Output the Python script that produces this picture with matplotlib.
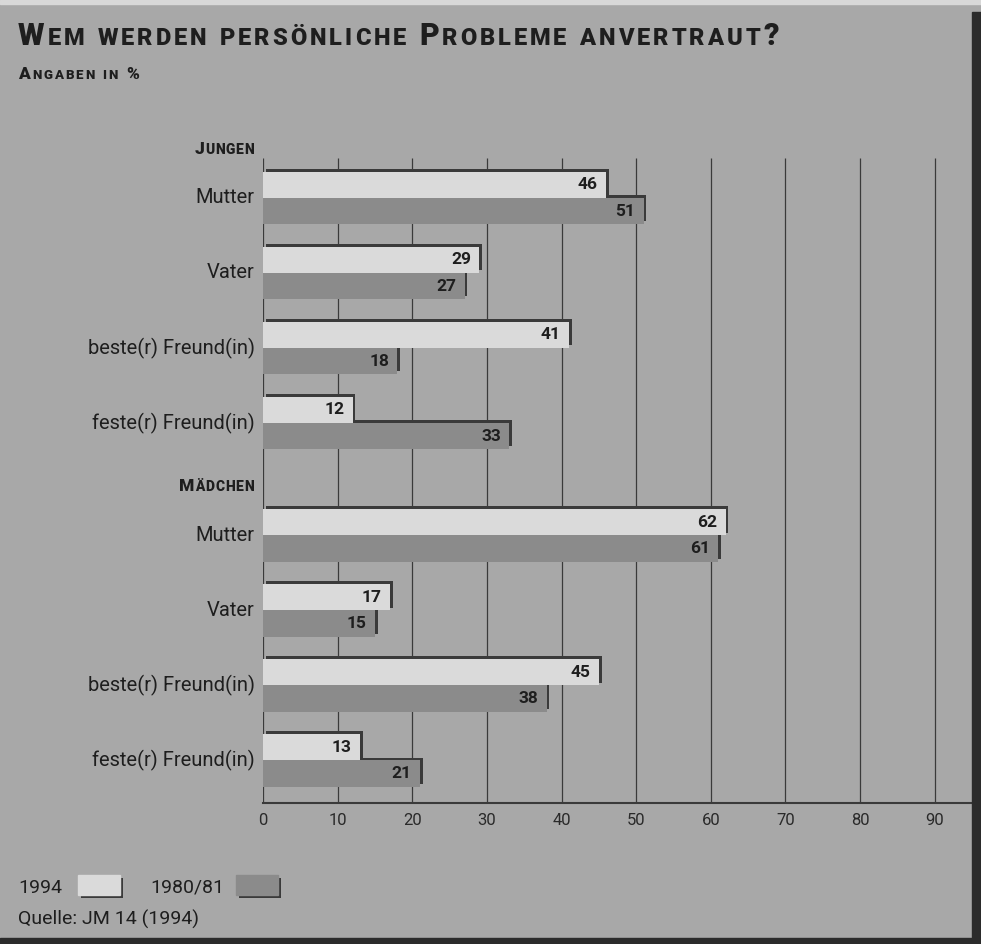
import matplotlib
matplotlib.use("Agg")
import matplotlib.pyplot as plt
import matplotlib.patheffects as pe
from matplotlib.patches import Rectangle

# data (Angaben in %)
CATEGORIES = ["Mutter", "Vater", "beste(r) Freund(in)", "feste(r) Freund(in)"]
GROUPS = ["Jungen", "Mädchen"]
JUNGEN_1994 = [46, 29, 41, 12]
JUNGEN_1980 = [51, 27, 18, 33]
MAEDCHEN_1994 = [62, 17, 45, 13]
MAEDCHEN_1980 = [61, 15, 38, 21]
SERIES_LABELS = ["1994", "1980/81"]
XTICKS = [0, 10, 20, 30, 40, 50, 60, 70, 80, 90]

BG = "#a8a8a8"
LIGHT = "#dadada"
DARK = "#8b8b8b"
SHADOW = "#3a3a3a"
INK = "#1e1e1e"
FONT = ["Roboto", "DejaVu Sans"]

W_PX, H_PX = 981, 944
plt.rcParams["font.family"] = FONT

fig = plt.figure(figsize=(W_PX / 100, H_PX / 100), dpi=100, facecolor=BG)
renderer = fig.canvas.get_renderer()


def px(x, y):
    """pixel position from the top-left corner -> figure fraction"""
    return x / W_PX, 1 - y / H_PX


_adv = {}


def advance(ch, size, weight):
    # glyph advance in px, measured between two H so bearings are kept
    if ch == " ":
        return size * 100 / 72 * 0.3
    if (ch, size, weight) not in _adv:
        t = fig.text(0, 0, "H" + ch + "H", fontsize=size, fontweight=weight)
        w1 = t.get_window_extent(renderer).width
        t.set_text("HH")
        w0 = t.get_window_extent(renderer).width
        t.remove()
        _adv[(ch, size, weight)] = w1 - w0
    return _adv[(ch, size, weight)]


def small_caps(x, y, text, big, small, ha="left", track=0.0, weight="bold"):
    """fake small caps: upper-case letters big, the rest as smaller capitals"""
    items = []
    for ch in text:
        sz = small if (ch.islower() or ch == " ") else big
        c = ch.upper()
        items.append((c, sz, advance(c, sz, weight) + track))
    total = sum(w for _, _, w in items) - track
    x0 = x - total if ha == "right" else x
    for c, sz, w in items:
        if c != " ":
            fig.text(*px(x0, y), c, fontsize=sz, fontweight=weight, color=INK,
                     va="baseline")
        x0 += w


# frame: light top edge, dark shadow right and bottom
fig.patches.append(Rectangle(px(0, 4), 1, 4 / H_PX, transform=fig.transFigure,
                             color="#d8d8d8", zorder=0))
fig.patches.append(Rectangle(px(972, 944), 9 / W_PX, 932 / H_PX, transform=fig.transFigure,
                             color="#2b2b2b", zorder=0))
fig.patches.append(Rectangle(px(0, 944), 1, 6 / H_PX, transform=fig.transFigure,
                             color="#2b2b2b", zorder=0))

small_caps(18, 45, "Wem werden persönliche Probleme anvertraut?", 22, 17, track=3.0,
           weight="heavy")
small_caps(18, 79, "Angaben in %", 12.5, 9.5, track=2.0, weight="heavy")

left, right = px(263, 0)[0], px(972, 0)[0]
bottom, top = px(0, 803)[1], px(0, 140)[1]
ax = fig.add_axes([left, bottom, right - left, top - bottom])
ax.set_facecolor("none")

GAP = 4.5
BAR_H = 0.35
Y_TOP, Y_BOTTOM = -0.773, 8.067
ax.set_xlim(0, 95)
ax.set_ylim(Y_BOTTOM, Y_TOP)
data = [(JUNGEN_1994, JUNGEN_1980), (MAEDCHEN_1994, MAEDCHEN_1980)]

shadow_fx = [pe.SimplePatchShadow(offset=(2, 2), shadow_rgbFace=SHADOW, alpha=1.0), pe.Normal()]

for g, (new, old) in enumerate(data):
    ys = [g * GAP + i for i in range(len(CATEGORIES))]
    ax.barh([y + BAR_H / 2 for y in ys], old, height=BAR_H, color=DARK,
            path_effects=shadow_fx, zorder=3)
    ax.barh([y - BAR_H / 2 for y in ys], new, height=BAR_H, color=LIGHT,
            path_effects=shadow_fx, zorder=4)
    for y, v_new, v_old, cat in zip(ys, new, old, CATEGORIES):
        ax.annotate(str(v_new), (v_new, y - BAR_H / 2), xytext=(-6, 0),
                    textcoords="offset points", ha="right", va="center",
                    fontsize=12.5, fontweight="bold", color=INK, zorder=6)
        ax.annotate(str(v_old), (v_old, y + BAR_H / 2), xytext=(-6, 0),
                    textcoords="offset points", ha="right", va="center",
                    fontsize=12.5, fontweight="bold", color=INK, zorder=6)
        ax.annotate(cat, (0, y), xytext=(-6, 0), textcoords="offset points",
                    ha="right", va="center", fontsize=14.5, color=INK,
                    annotation_clip=False)
    # group header, right aligned left of the axis
    hx, hy = ax.transData.transform((0, g * GAP - 0.68))
    small_caps(hx - 9, H_PX - hy + 7, GROUPS[g], 12.5, 10, ha="right", track=0.8,
               weight="heavy")

ax.vlines(XTICKS, Y_TOP + 0.24, Y_BOTTOM, color=SHADOW, lw=0.9, zorder=1)
ax.set_xticks(XTICKS)
ax.set_yticks([])
ax.tick_params(axis="x", length=0, pad=7, labelsize=12, labelcolor="#2a2a2a")
for s in ("top", "right", "left"):
    ax.spines[s].set_visible(False)
ax.spines["bottom"].set_color(SHADOW)
ax.spines["bottom"].set_linewidth(1.5)

# legend drawn by hand: swatches with the shadow below and to the right
leg_fx = [pe.SimplePatchShadow(offset=(2, -2), shadow_rgbFace=SHADOW, alpha=1.0), pe.Normal()]
fig.text(*px(18, 893), SERIES_LABELS[0], fontsize=14, color=INK, va="baseline")
fig.patches.append(Rectangle(px(78, 895), 42 / W_PX, 20 / H_PX, transform=fig.transFigure,
                             color=LIGHT, path_effects=leg_fx))
fig.text(*px(150, 893), SERIES_LABELS[1], fontsize=14, color=INK, va="baseline")
fig.patches.append(Rectangle(px(236, 895), 42 / W_PX, 20 / H_PX, transform=fig.transFigure,
                             color=DARK, path_effects=leg_fx))
fig.text(*px(18, 925), "Quelle: JM 14 (1994)", fontsize=14, color=INK, va="baseline")

fig.savefig("out.png", dpi=100, facecolor=fig.get_facecolor())
